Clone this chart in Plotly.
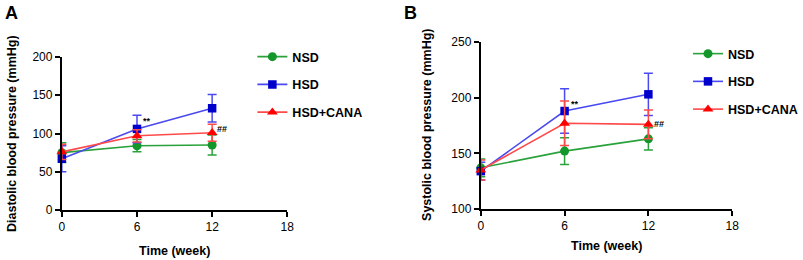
import plotly.graph_objects as go

weeks = [0, 6, 12]
groups = ["NSD", "HSD", "HSD+CANA"]

dia_mean = {"NSD": [75, 84, 85], "HSD": [67, 106, 133], "HSD+CANA": [76, 97, 101]}
dia_err = {"NSD": [13, 8, 13], "HSD": [17, 18, 18], "HSD+CANA": [10, 8, 11]}
sys_mean = {"NSD": [137, 152, 163], "HSD": [134, 188, 203], "HSD+CANA": [135, 177, 176]}
sys_err = {"NSD": [8, 12, 10], "HSD": [8, 20, 19], "HSD+CANA": [9, 20, 13]}

x_ticks = [0, 6, 12, 18]
dia_ticks = [0, 50, 100, 150, 200]
sys_ticks = [100, 150, 200, 250]

marker_col = {"NSD": "#13962a", "HSD": "#0000cc", "HSD+CANA": "#ff0000"}
line_col = {"NSD": "#2aa23c", "HSD": "#4a4af0", "HSD+CANA": "#ff4a4a"}
symbols = {"NSD": "circle", "HSD": "square", "HSD+CANA": "triangle-up"}
msize = {"NSD": 9, "HSD": 8.5, "HSD+CANA": 9.5}

FONT = "Liberation Sans"
W, H = 803, 260

fig = go.Figure()

for panel, means, errs, xa, ya, leg in [
    ("A", dia_mean, dia_err, "x", "y", "legend"),
    ("B", sys_mean, sys_err, "x2", "y2", "legend2"),
]:
    for g in groups:
        fig.add_trace(go.Scatter(
            x=weeks, y=means[g], xaxis=xa, yaxis=ya, name="<b>" + g + "</b>",
            mode="lines+markers", legend=leg, legendgroup=panel + g,
            line=dict(color=line_col[g], width=1.6),
            marker=dict(color=marker_col[g], symbol=symbols[g], size=msize[g]),
            error_y=dict(type="data", array=errs[g], color=line_col[g], thickness=1.5, width=4.5),
            cliponaxis=False,
        ))

def px_x(p):
    return p / W

def px_y(p):
    return (H - p) / H

axis_common = dict(
    showline=True, linecolor="black", linewidth=2, ticks="outside", ticklen=5,
    tickwidth=2, tickcolor="black", showgrid=False, zeroline=False, automargin=False,
    tickfont=dict(family=FONT, size=12, color="black"),
    tickprefix="<b>", ticksuffix="</b>",
)

fig.update_layout(
    width=W, height=H, margin=dict(l=0, r=0, t=0, b=0),
    paper_bgcolor="white", plot_bgcolor="white", font=dict(family=FONT, color="black"),
    xaxis=dict(domain=[px_x(62), px_x(288)], range=[0, 18], tickvals=x_ticks, anchor="y", **axis_common),
    yaxis=dict(domain=[px_y(210), px_y(57)], range=[0, 200], tickvals=dia_ticks, anchor="x", **axis_common),
    xaxis2=dict(domain=[px_x(482), px_x(734)], range=[0, 18], tickvals=x_ticks, anchor="y2", **axis_common),
    yaxis2=dict(domain=[px_y(209), px_y(42)], range=[100, 250], tickvals=sys_ticks, anchor="x2", **axis_common),
    legend=dict(x=px_x(253), y=px_y(42), xanchor="left", yanchor="top",
                font=dict(family=FONT, size=12.5, color="black"), tracegroupgap=8.5,
                traceorder="grouped", itemwidth=30, bgcolor="rgba(0,0,0,0)"),
    legend2=dict(x=px_x(690), y=px_y(39), xanchor="left", yanchor="top",
                 font=dict(family=FONT, size=12.5, color="black"), tracegroupgap=8.5,
                 traceorder="grouped", itemwidth=30, bgcolor="rgba(0,0,0,0)"),
)

ann = []
def txt(text, x, y, size, angle=0, xanchor="center", yanchor="middle"):
    ann.append(dict(text=text, x=px_x(x), y=px_y(y), xref="paper", yref="paper",
                    xanchor=xanchor, yanchor=yanchor, showarrow=False, textangle=angle,
                    font=dict(family=FONT, size=size, color="black")))

txt("<b>A</b>", 3, 1, 18, xanchor="left", yanchor="top")
txt("<b>B</b>", 403, 1, 18, xanchor="left", yanchor="top")
txt("<b>Time (week)</b>", 175, 251, 12.5)
txt("<b>Time (week)</b>", 608, 246, 12.5)
txt("<b>Diastolic blood pressure (mmHg)</b>", 12, 133, 12.5, angle=-90)
txt("<b>Systolic blood pressure (mmHg)</b>", 428, 125, 12.5, angle=-90)

ann.append(dict(text="<b>**</b>", x=weeks[1], y=dia_mean["HSD"][1], xref="x", yref="y",
                xanchor="left", yanchor="middle", xshift=4, yshift=8, showarrow=False,
                font=dict(family=FONT, size=9)))
ann.append(dict(text="<b>##</b>", x=weeks[2], y=dia_mean["HSD+CANA"][2], xref="x", yref="y",
                xanchor="left", yanchor="middle", xshift=3, yshift=4, showarrow=False,
                font=dict(family=FONT, size=9)))
ann.append(dict(text="<b>**</b>", x=weeks[1], y=sys_mean["HSD"][1], xref="x2", yref="y2",
                xanchor="left", yanchor="middle", xshift=4, yshift=7, showarrow=False,
                font=dict(family=FONT, size=9)))
ann.append(dict(text="<b>##</b>", x=weeks[2], y=sys_mean["HSD+CANA"][2], xref="x2", yref="y2",
                xanchor="left", yanchor="middle", xshift=4, yshift=0, showarrow=False,
                font=dict(family=FONT, size=9)))
fig.update_layout(annotations=ann)

fig.write_html("out.html", config={"displayModeBar": False},
               post_script="document.body.style.margin='0';document.body.style.padding='0';")
